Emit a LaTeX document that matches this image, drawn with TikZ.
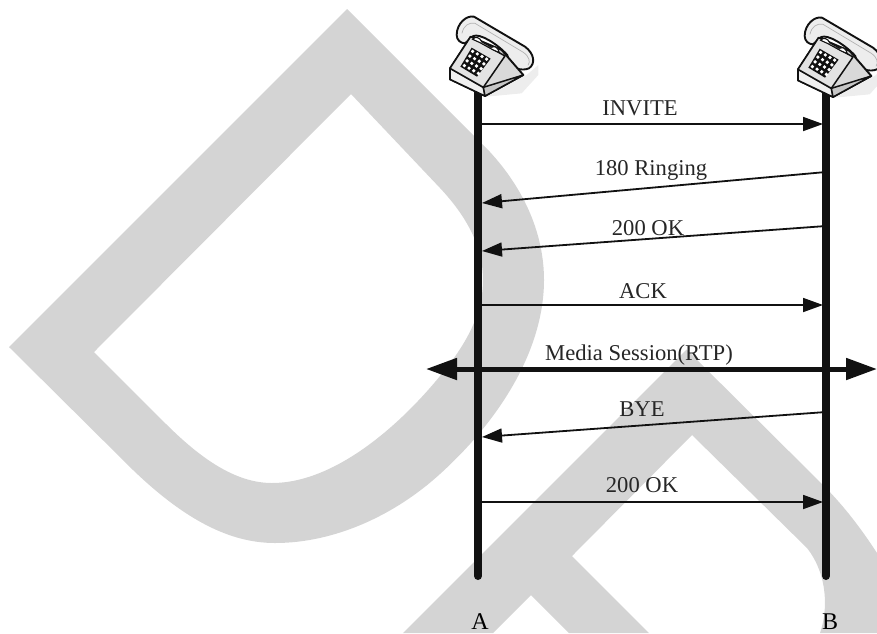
\documentclass[tikz,border=0pt]{standalone}
\usepackage{fontspec}
\setmainfont{Liberation Serif}
\usetikzlibrary{arrows.meta}
\definecolor{wm}{HTML}{D4D4D4}
\definecolor{ink}{HTML}{111111}
\tikzset{
  lifeline/.style={ink,line width=8pt,line cap=round},
  msg/.style={ink,line width=1.8pt,-{Triangle[length=20pt,width=14pt]}},
  media/.style={ink,line width=5pt,{Triangle[length=31pt,width=21pt]}-{Triangle[length=31pt,width=21pt]}},
  lbl/.style={anchor=base,inner sep=0pt,font=\fontsize{22.6}{24}\selectfont,text=black!85},
  endlbl/.style={anchor=base,inner sep=0pt,font=\fontsize{24}{26}\selectfont,text=black},
  phone/.pic={
    \fill[gray!14] (170,290) -- (290,225) -- (325,195) -- (325,225) -- (275,280) -- cycle;
    \draw[ink,line width=1.9pt,line join=round,fill=gray!14] (80,105) .. controls (80,70) and (110,45) .. (132,50) -- (285,140) .. controls (312,160) and (318,190) .. (297,205) .. controls (275,214) and (248,205) .. (238,190) -- (232,165) .. controls (200,130) and (150,100) .. (130,108) -- (105,130) .. controls (92,130) and (80,120) .. (80,105) -- cycle;
    \draw[gray!60,line width=.7pt] (96,100) .. controls (100,78) and (116,66) .. (135,70) -- (280,157) .. controls (298,170) and (302,185) .. (294,196);
    \draw[ink,line width=1.9pt,line join=round,fill=gray!30] (60,205) -- (122,110) -- (215,150) -- (280,225) -- (165,288) -- (60,238) -- cycle;
    \draw[ink,line width=1.5pt,line join=round,fill=gray!12] (60,205) -- (160,262) -- (165,288) -- (60,238) -- cycle;
    \draw[ink,line width=1.5pt,line join=round,fill=gray!45] (160,262) -- (280,225) -- (165,288) -- cycle;
    \draw[ink,line width=1.5pt,line join=round,fill=gray!22] (60,205) -- (122,110) -- (225,168) -- (160,262) -- cycle;
    \draw[ink,line width=1.1pt,fill=white] (128,118) .. controls (135,108) and (150,112) .. (155,125) -- (185,142) .. controls (195,135) and (205,145) .. (208,158) -- (190,150) -- (150,128) -- cycle;
    \fill[ink,line join=round] (125,143) -- (182,176) -- (141,230) -- (91,200) -- cycle;
    \foreach \i in {0,1,2,3} \foreach \j in {0,1,2,3}
      \fill[white] ({125+(\i+.5)/4*56+(\j+.5)/4*(-33)},{143+(\i+.5)/4*31+(\j+.5)/4*57}) circle[radius=5.5];
  }
}
\begin{document}
\begin{tikzpicture}[x=1pt,y=-1pt]
\useasboundingbox (0,0) rectangle (877,633);
% watermark letters
\fill[wm,even odd rule]
  (9,347) -- (133,470) .. controls (185,520) and (230,543) .. (275,543)
  .. controls (335,543) and (395,515) .. (440,474)
  .. controls (505,415) and (544,345) .. (544,280)
  .. controls (544,235) and (525,190) .. (490,152) -- (347,9) -- cycle
  (94,352) -- (165,423) .. controls (200,458) and (235,483) .. (272,483)
  .. controls (335,483) and (400,425) .. (440,376)
  .. controls (470,340) and (483,310) .. (483,280)
  .. controls (483,250) and (470,220) .. (440,188) -- (351,94) -- cycle;
\fill[wm,even odd rule]
  (403,633) -- (686.5,349.5) -- (823,485) .. controls (845,507) and (862,530) .. (877,553)
  -- (877,633) -- (820,633) .. controls (828,610) and (828,575) .. (807,548) -- (692,435) -- (572,556) -- (649,633) -- (569,633) -- (531,595) -- (493,633) -- cycle;
% anchors
\coordinate (Atop) at (478,92);
\coordinate (Abot) at (478,576);
\coordinate (Btop) at (826,92);
\coordinate (Bbot) at (826,576);
\coordinate (pA) at (430,0);
\coordinate (pB) at (778,1);
\draw[lifeline] (Atop) -- (Abot);
\draw[lifeline] (Btop) -- (Bbot);
% phones
\pic[x=.3333pt,y=-.3333pt] at (pA) {phone};
\pic[x=.3333pt,y=-.3333pt] at (pB) {phone};
\coordinate (a1) at (478,124); \coordinate (b1) at (823,124);
\coordinate (b2) at (826,172); \coordinate (a2) at (482,203);
\coordinate (b3) at (826,226); \coordinate (a3) at (482,251);
\coordinate (a4) at (478,305); \coordinate (b4) at (823,305);
\coordinate (ml) at (426,369); \coordinate (mr) at (877,369);
\coordinate (b6) at (826,412); \coordinate (a6) at (482,437);
\coordinate (a7) at (478,502); \coordinate (b7) at (823,502);
\draw[msg] (a1) -- (b1);
\draw[msg] (b2) -- (a2);
\draw[msg] (b3) -- (a3);
\draw[msg] (a4) -- (b4);
\draw[media] (ml) -- (mr);
\draw[msg] (b6) -- (a6);
\draw[msg] (a7) -- (b7);
\node[lbl] (l1) at (640,115) {INVITE};
\node[lbl] (l2) at (651,175) {180 Ringing};
\node[lbl] (l3) at (648,235) {200 OK};
\node[lbl] (l4) at (643,298) {ACK};
\node[lbl] (l5) at (639,360) {Media Session(RTP)};
\node[lbl] (l6) at (642,416) {BYE};
\node[lbl] (l7) at (642,492) {200 OK};
\node[endlbl] (la) at (480,629) {A};
\node[endlbl] (lb) at (830,629) {B};
\end{tikzpicture}
\end{document}
